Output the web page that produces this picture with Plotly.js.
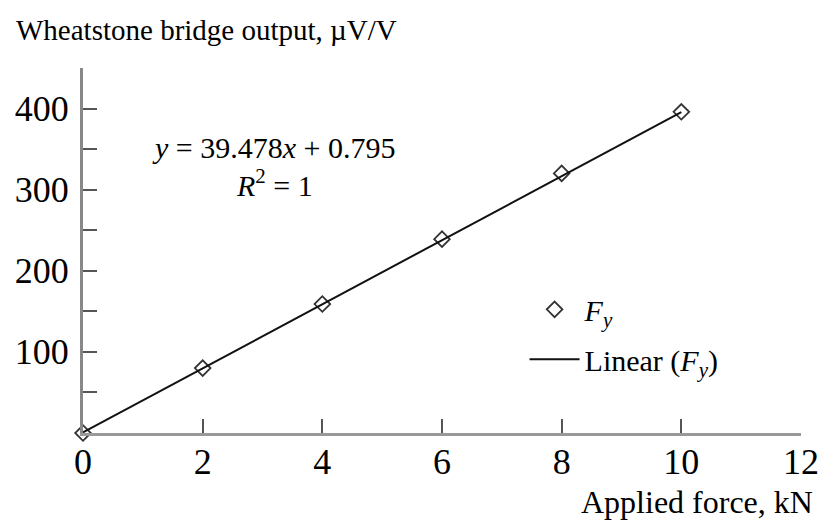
<!DOCTYPE html>
<html>
<head>
<meta charset="utf-8">
<script src="https://cdn.plot.ly/plotly-3.0.1.min.js"></script>
<style>html,body{margin:0;padding:0;background:#fff;}#chart{width:819px;height:524px;}</style>
</head>
<body>
<div id="chart"></div>
<script>
// Data
const forceKN = [0, 2, 4, 6, 8, 10];
const outputUV = [0, 80, 159, 239, 320, 396];
const fitX = [0, 10];
const fitY = [0.8, 395.6];
const xTickVals = [0, 2, 4, 6, 8, 10, 12];
const xTickText = ['0', '2', '4', '6', '8', '10', '12'];
const yTickVals = [0, 50, 100, 150, 200, 250, 300, 350, 400, 450];
const yTickText = ['', '', '100', '', '200', '', '300', '', '400', ''];
const yTitle = 'Wheatstone bridge output, µV/V';
const xTitle = 'Applied force, kN';
const eqText = '<i>y</i> = 39.478<i>x</i> + 0.795';
const r2Text = '<i>R</i><sup>2</sup> = 1';
const seriesName = '<i>F</i><sub><i>y</i></sub>';
const fitName = 'Linear (<i>F</i><sub><i>y</i></sub>)';

const serif = 'Liberation Serif, Times New Roman, serif';

const traces = [
  {
    x: forceKN, y: outputUV, type: 'scatter', mode: 'markers', name: seriesName,
    legendgroup: 'a',
    marker: {symbol: 'diamond-open', size: 12, color: '#333', line: {width: 1.8, color: '#333'}},
    cliponaxis: false
  },
  {
    x: fitX, y: fitY, type: 'scatter', mode: 'lines', name: fitName,
    legendgroup: 'b',
    line: {color: '#111', width: 2},
    cliponaxis: false
  }
];

const layout = {
  width: 819, height: 524,
  margin: {l: 83, r: 18, t: 68, b: 91},
  paper_bgcolor: '#fff', plot_bgcolor: '#fff',
  font: {family: serif, color: '#000'},
  showlegend: true,
  legend: {
    x: 0.615, y: 0.41, xanchor: 'left', yanchor: 'top',
    font: {family: serif, size: 30, color: '#000'},
    bgcolor: 'rgba(0,0,0,0)', tracegroupgap: 8, traceorder: 'grouped',
    itemwidth: 50
  },
  xaxis: {
    range: [0, 12], tickmode: 'array', tickvals: xTickVals, ticktext: xTickText,
    ticks: 'inside', ticklen: 14, tickwidth: 2, tickcolor: '#555',
    showline: true, linecolor: '#999', linewidth: 3,
    showgrid: false, zeroline: false,
    tickfont: {family: serif, size: 36, color: '#000'},
    ticklabelstandoff: -5
  },
  yaxis: {
    range: [0, 450], tickmode: 'array', tickvals: yTickVals, ticktext: yTickText,
    ticks: 'inside', ticklen: 14, tickwidth: 2, tickcolor: '#555',
    showline: true, linecolor: '#888', linewidth: 3,
    showgrid: false, zeroline: false,
    tickfont: {family: serif, size: 36, color: '#000'},
    ticklabelstandoff: 4
  },
  annotations: [
    {text: yTitle, xref: 'paper', yref: 'paper', x: -0.096, y: 1.105, xanchor: 'left', yanchor: 'middle',
     showarrow: false, font: {family: serif, size: 29, color: '#000'}},
    {text: xTitle, xref: 'paper', yref: 'paper', x: 1.02, y: -0.19, xanchor: 'right', yanchor: 'middle',
     showarrow: false, font: {family: serif, size: 32, color: '#000'}},
    {text: eqText, xref: 'x', yref: 'y', x: 3.2, y: 352, xanchor: 'center', yanchor: 'middle',
     showarrow: false, font: {family: serif, size: 30, color: '#000'}},
    {text: r2Text, xref: 'x', yref: 'y', x: 3.2, y: 308, xanchor: 'center', yanchor: 'middle',
     showarrow: false, font: {family: serif, size: 30, color: '#000'}}
  ]
};

Plotly.newPlot('chart', traces, layout, {displayModeBar: false, staticPlot: true});
</script>
</body>
</html>
